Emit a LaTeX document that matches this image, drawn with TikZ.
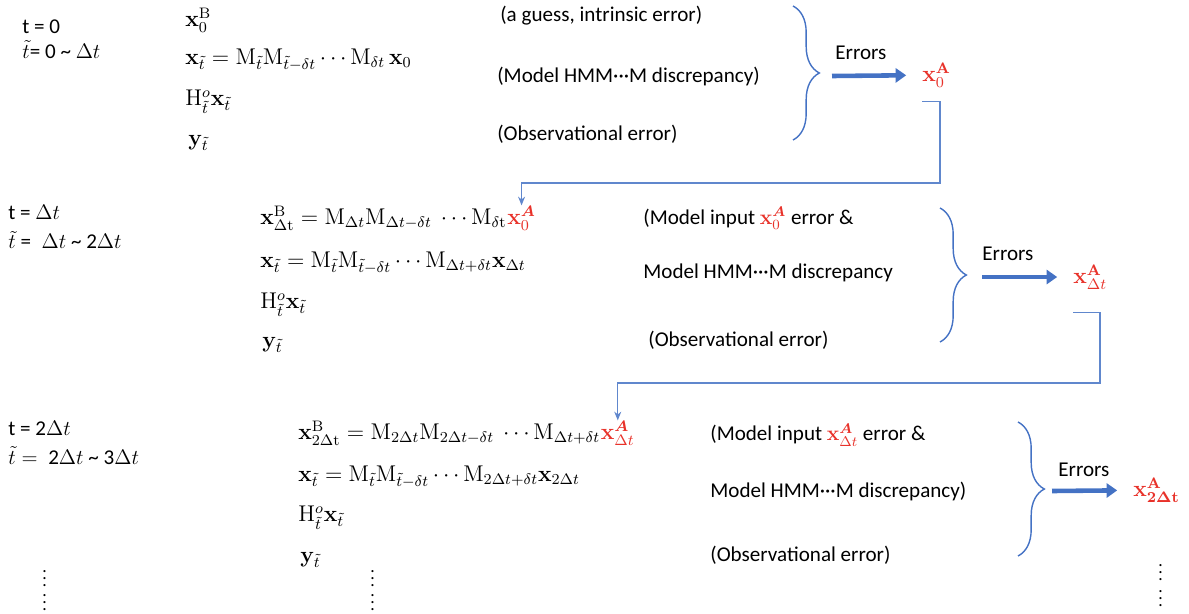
\documentclass[tikz,border=0pt]{standalone}
\usepackage{amsmath}
\usepackage{amssymb}
\usepackage{bm}
\usepackage[no-math]{fontspec}
\setmainfont{Carlito}
\usepackage{tikz}
\usetikzlibrary{arrows.meta}
\usetikzlibrary{decorations.pathreplacing}
\definecolor{linkblue}{HTML}{4472C4}
\definecolor{anared}{HTML}{E8322A}
\tikzset{formula/.style={scale=1.08, transform shape}}
\tikzset{curly/.style={draw=linkblue, line width=0.8pt, decorate, decoration={brace, amplitude=15pt}}}
\tikzset{bigarrow/.style={draw=linkblue, line width=2.6pt, -{Triangle[length=6pt,width=8pt]}, shorten >=9pt}}
\tikzset{feedback/.style={draw=linkblue!85, line width=0.6pt, -{Stealth[length=5pt,width=4pt]}}}
\tikzset{vdots/.style={font=\fontsize{10}{12}\selectfont}}
\newcommand{\xan}[1]{\textcolor{anared}{$\mathbf{x}^{\mathbf{A}}_{#1}$}}
\newcommand{\xain}[1]{\textcolor{anared}{$\mathbf{x}^{\bm{A}}_{#1}$}}

\begin{document}
\begin{tikzpicture}[x=0.02cm, y=-0.02cm]
	% Default action for each node
	\tikzstyle{every node}=[inner sep=0pt, anchor=west, font=\fontsize{12}{14}\selectfont];

	\useasboundingbox (0,0) rectangle (1189,613);

	% ROW 1 (t = 0)
	\node (t0) at (22,27) {t = 0};
	\node (tt0) at (22,50) {$\tilde{t}$= 0 \textasciitilde{} $\Delta t$};

	\node[formula] (xb0) at (185,20) {$\mathbf{x}^{\mathrm{B}}_{0}$};
	\node[formula] (xt0) at (185,60) {$\mathbf{x}_{\tilde{t}} = \mathrm{M}_{\tilde{t}}\mathrm{M}_{\tilde{t}-\delta t}\cdots\mathrm{M}_{\delta t}\,\mathbf{x}_{0}$};
	\node[formula] (hx0) at (185,102) {$\mathrm{H}^{o}_{\tilde{t}}\mathbf{x}_{\tilde{t}}$};
	\node[formula] (y0) at (188,143) {$\mathbf{y}_{\tilde{t}}$};

	\node (ea0) at (500,16) {(a guess, intrinsic error)};
	\node (eb0) at (497,76) {(Model HMM···M discrepancy)};
	\node (ec0) at (497,134) {(Observational error)};

	\coordinate (brace0 top) at (793,6);	\coordinate (brace0 bottom) at (793,140);
	\coordinate (brace0 tip) at (832,76);
	\node (err0) at (835,53) {Errors};
	\node[formula] (xa0) at (922,75) {\xan{0}};

	% ROW 2 (t = Delta t)
	\node (t1) at (8,212) {t = $\Delta t$};
	\node (tt1) at (8,240) {$\tilde{t}$ =\enspace$\Delta t$ \textasciitilde{} 2$\Delta t$};

	\node[formula] (xb1) at (260,218) {$\mathbf{x}^{\mathrm{B}}_{\mathrm{\Delta t}} = \mathrm{M}_{\Delta t}\mathrm{M}_{\Delta t-\delta t}\ \cdots\mathrm{M}_{\mathrm{\delta t}}$};
	\node[formula, anchor=base west] (in1) at (xb1.base east) {\xain{0}};
	\node[formula] (xt1) at (260,263) {$\mathbf{x}_{\tilde{t}} = \mathrm{M}_{\tilde{t}}\mathrm{M}_{\tilde{t}-\delta t}\cdots\mathrm{M}_{\Delta t+\delta t}\mathbf{x}_{\Delta t}$};
	\node[formula] (hx1) at (260,305) {$\mathrm{H}^{o}_{\tilde{t}}\mathbf{x}_{\tilde{t}}$};
	\node[formula] (y1) at (262,345) {$\mathbf{y}_{\tilde{t}}$};

	\node (ea1) at (643,218) {(Model input \xain{0} error \&};
	\node (eb1) at (643,273) {Model HMM···M discrepancy};
	\node (ec1) at (648,340) {(Observational error)};

	\coordinate (brace1 top) at (940,208);	\coordinate (brace1 bottom) at (940,342);
	\coordinate (brace1 tip) at (982,277);
	\node (err1) at (982,254) {Errors};
	\node[formula] (xa1) at (1073,277) {\xan{\Delta t}};

	% ROW 3 (t = 2 Delta t)
	\node (t2) at (8,428) {t = 2$\Delta t$};
	\node (tt2) at (8,456) {$\tilde{t} =$\enspace 2$\Delta t$ \textasciitilde{} 3$\Delta t$};

	\node[formula] (xb2) at (298,433) {$\mathbf{x}^{\mathrm{B}}_{2\mathrm{\Delta t}} = \mathrm{M}_{2\Delta t}\mathrm{M}_{2\Delta t-\delta t}\ \cdots\mathrm{M}_{\Delta t+\delta t}$};
	\node[formula, anchor=base west] (in2) at (xb2.base east) {\xain{\Delta t}};
	\node[formula] (xt2) at (298,477) {$\mathbf{x}_{\tilde{t}} = \mathrm{M}_{\tilde{t}}\mathrm{M}_{\tilde{t}-\delta t}\cdots\mathrm{M}_{2\Delta t+\delta t}\mathbf{x}_{2\Delta t}$};
	\node[formula] (hx2) at (298,518) {$\mathrm{H}^{o}_{\tilde{t}}\mathbf{x}_{\tilde{t}}$};
	\node[formula] (y2) at (300,560) {$\mathbf{y}_{\tilde{t}}$};

	\node (ea2) at (710,435) {(Model input \xain{\Delta t} error \&};
	\node (eb2) at (710,491) {Model HMM···M discrepancy)};
	\node (ec2) at (710,555) {(Observational error)};

	\coordinate (brace2 top) at (1018,422);	\coordinate (brace2 bottom) at (1018,556);
	\coordinate (brace2 tip) at (1052,491);
	\node (err2) at (1058,470) {Errors};
	\node[formula] (xa2) at (1133,490) {\xan{\mathbf{2\Delta t}}};

	% Ellipses
	\node[vdots] (dotsl a) at (42,573) {$\vdots$};		\node[vdots] (dotsl b) at (42,597) {$\vdots$};
	\node[vdots] (dotsm a) at (370,573) {$\vdots$};	\node[vdots] (dotsm b) at (370,597) {$\vdots$};
	\node[vdots] (dotsr a) at (1158,567) {$\vdots$};	\node[vdots] (dotsr b) at (1158,593) {$\vdots$};

	% Braces and arrows
	\draw[curly] (brace0 top) -- (brace0 bottom);
	\draw[curly] (brace1 top) -- (brace1 bottom);
	\draw[curly] (brace2 top) -- (brace2 bottom);

	\draw[bigarrow] (brace0 tip) -- (xa0);
	\draw[bigarrow] (brace1 tip) -- (xa1);
	\draw[bigarrow] (brace2 tip) -- (xa2);

	% Feedback
	\coordinate (turn0) at (940,183);
	\coordinate (turn1) at (1100,383);
	\draw[feedback] ([yshift=-8pt]xa0.south west) -| (turn0) -| (in1.north);
	\draw[feedback] ([yshift=-13pt]xa1.south west) -| (turn1) -| (in2.north);

\end{tikzpicture}
\end{document}
